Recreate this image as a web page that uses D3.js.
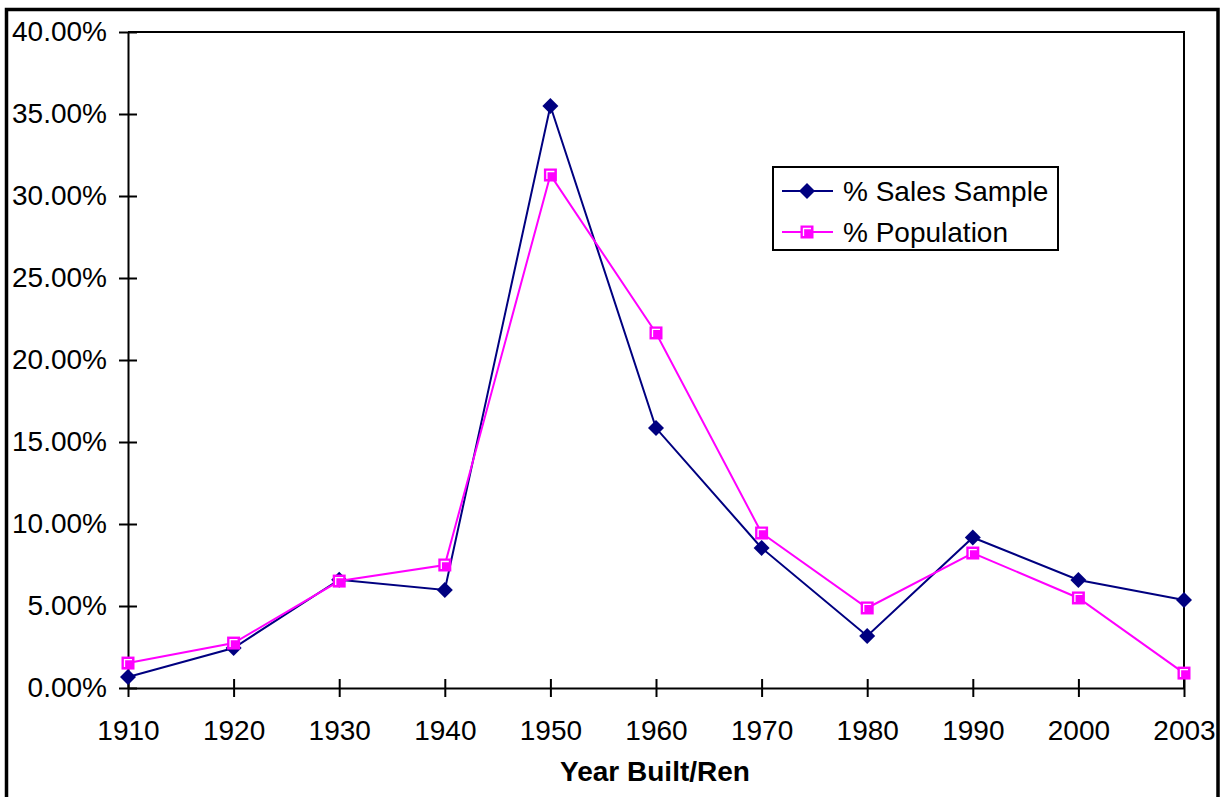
<!DOCTYPE html>
<html>
<head>
<meta charset="utf-8">
<script src="https://cdn.jsdelivr.net/npm/d3@7"></script>
<style>
  html, body { margin: 0; padding: 0; background: #fff; }
  svg { display: block; font-family: Arial, "Liberation Sans", sans-serif; }
</style>
</head>
<body>
<svg id="chart" width="1225" height="797"></svg>
<script>
// Share of properties by year built / renovated
const years = ["1910", "1920", "1930", "1940", "1950", "1960", "1970", "1980", "1990", "2000", "2003"];
const salesSample = [0.0067, 0.0244, 0.0660, 0.0598, 0.3549, 0.1585, 0.0854, 0.0317, 0.0918, 0.0659, 0.0537];
const population  = [0.0152, 0.0274, 0.0652, 0.0750, 0.3128, 0.2165, 0.0945, 0.0488, 0.0823, 0.0549, 0.0091];
const yTicks = [0, 0.05, 0.10, 0.15, 0.20, 0.25, 0.30, 0.35, 0.40];
const seriesNames = ["% Sales Sample", "% Population"];
const xTitle = "Year Built/Ren";

const svg = d3.select("#chart");
const plot = { left: 128, right: 1184, top: 32, bottom: 688 };

const x = d3.scalePoint().domain(years).range([plot.left, plot.right]);
const y = d3.scaleLinear().domain([0, 0.4]).range([plot.bottom, plot.top]);

// Outer chart border
svg.append("rect")
  .attr("x", 6.5).attr("y", 9.5)
  .attr("width", 1211.5).attr("height", 800)
  .attr("fill", "none").attr("stroke", "#000").attr("stroke-width", 3.5);

// Plot area frame (top and right edges)
svg.append("path")
  .attr("d", `M${plot.left},${plot.top}H${plot.right}V${plot.bottom}`)
  .attr("fill", "none").attr("stroke", "#000").attr("stroke-width", 2);

const fmt = d3.format(".2%");

// Y axis
const yAxis = svg.append("g")
  .attr("transform", `translate(${plot.left},0)`)
  .call(d3.axisLeft(y).tickValues(yTicks).tickFormat(fmt).tickSizeInner(9).tickSizeOuter(0).tickPadding(12));
yAxis.select(".domain").attr("stroke-width", 2);
yAxis.selectAll(".tick line").attr("x1", 9).attr("stroke-width", 2);
yAxis.selectAll(".tick text").attr("font-size", 28).attr("fill", "#000")
  .attr("font-family", "Arial, 'Liberation Sans', sans-serif");

// X axis
const xAxis = svg.append("g")
  .attr("transform", `translate(0,${plot.bottom})`)
  .call(d3.axisBottom(x).tickSizeInner(9).tickSizeOuter(0).tickPadding(23));
xAxis.select(".domain").attr("stroke-width", 2);
xAxis.selectAll(".tick line").attr("y1", -9).attr("stroke-width", 2);
xAxis.selectAll(".tick text").attr("font-size", 28).attr("fill", "#000")
  .attr("font-family", "Arial, 'Liberation Sans', sans-serif");

// X axis title
svg.append("text")
  .attr("x", 655).attr("y", 781)
  .attr("text-anchor", "middle")
  .attr("font-size", 28).attr("font-weight", "bold")
  .text(xTitle);

const line = d3.line().x((d, i) => x(years[i])).y(d => y(d));

// Marker drawing helpers
function diamond(g, cx, cy) {
  const r = 8;
  g.append("path")
    .attr("d", `M${cx},${cy - r}L${cx + r},${cy}L${cx},${cy + r}L${cx - r},${cy}Z`)
    .attr("fill", "#000080");
}
function square(g, cx, cy) {
  const h = 6.5;
  g.append("rect")
    .attr("x", cx - h).attr("y", cy - h).attr("width", 2 * h).attr("height", 2 * h)
    .attr("fill", "#ff00ff");
  g.append("path")
    .attr("d", `M${cx - 3.5},${cy + 4}V${cy - 3.5}H${cx + 4}`)
    .attr("fill", "none").attr("stroke", "#fff").attr("stroke-width", 1.3);
}

// Sales sample series
const gS = svg.append("g");
gS.append("path").datum(salesSample).attr("d", line)
  .attr("fill", "none").attr("stroke", "#000080").attr("stroke-width", 2);

// Population series
const gP = svg.append("g");
gP.append("path").datum(population).attr("d", line)
  .attr("fill", "none").attr("stroke", "#ff00ff").attr("stroke-width", 2);

salesSample.forEach((v, i) => diamond(gS, x(years[i]), y(v)));
population.forEach((v, i) => square(gP, x(years[i]), y(v)));

// Legend
const lg = svg.append("g");
lg.append("rect")
  .attr("x", 773).attr("y", 167).attr("width", 285).attr("height", 83)
  .attr("fill", "#fff").attr("stroke", "#000").attr("stroke-width", 2);
const rows = [
  { name: seriesNames[0], color: "#000080", y: 191, mark: diamond },
  { name: seriesNames[1], color: "#ff00ff", y: 232, mark: square }
];
rows.forEach(r => {
  lg.append("line").attr("x1", 782).attr("x2", 833).attr("y1", r.y).attr("y2", r.y)
    .attr("stroke", r.color).attr("stroke-width", 2);
  r.mark(lg, 807, r.y);
  lg.append("text").attr("x", 843).attr("y", r.y).attr("dy", "0.35em")
    .attr("font-size", 28).text(r.name);
});
</script>
</body>
</html>
